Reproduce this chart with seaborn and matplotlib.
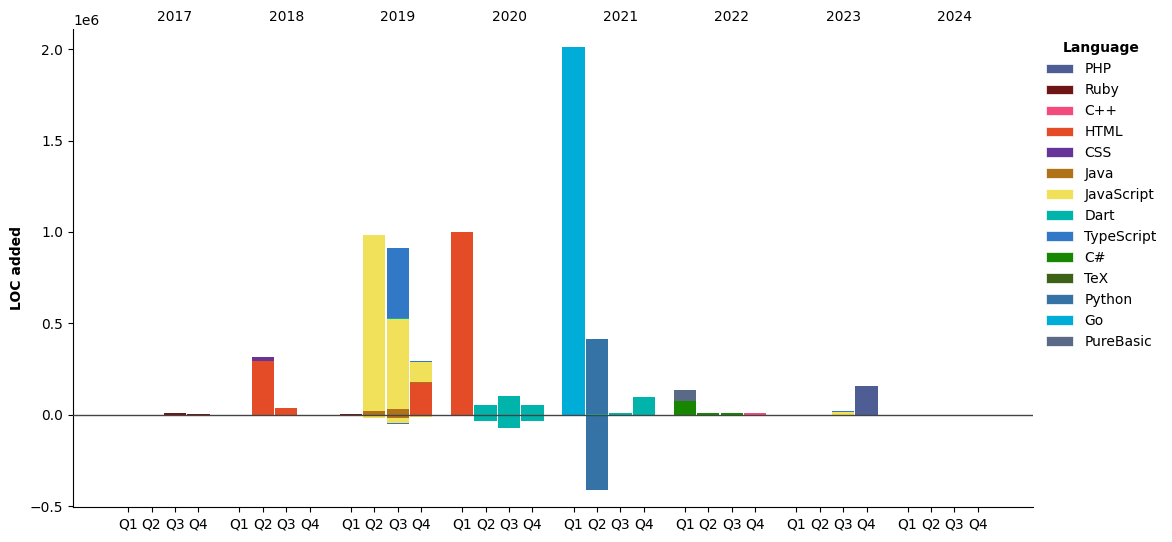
import matplotlib
matplotlib.use("Agg")
import matplotlib.pyplot as plt
from matplotlib.patches import Patch
import seaborn as sns
import pandas as pd
import numpy as np

years = [2017, 2018, 2019, 2020, 2021, 2022, 2023, 2024]
quarters = ["Q1", "Q2", "Q3", "Q4"]

languages = ["PHP", "Ruby", "C++", "HTML", "CSS", "Java", "JavaScript", "Dart",
             "TypeScript", "C#", "TeX", "Python", "Go", "PureBasic"]
lang_colors = ["#4F5D95", "#701516", "#f34b7d", "#e34c26", "#663399", "#b07219",
               "#f1e05a", "#00B4AB", "#3178c6", "#178600", "#3D6117", "#3572A5",
               "#00ADD8", "#5a6986"]

rec_year = [2017, 2017, 2018, 2018, 2018, 2018, 2019, 2019, 2019,
            2019, 2019, 2019, 2019,
            2019, 2019, 2019, 2019,
            2020, 2020, 2020, 2020,
            2021, 2021, 2021, 2021, 2021,
            2022, 2022, 2022, 2022, 2022,
            2023, 2023, 2023]
rec_quarter = ["Q3", "Q4", "Q2", "Q2", "Q2", "Q3", "Q1", "Q2", "Q2",
               "Q3", "Q3", "Q3", "Q3",
               "Q4", "Q4", "Q4", "Q4",
               "Q1", "Q2", "Q3", "Q4",
               "Q1", "Q2", "Q2", "Q3", "Q4",
               "Q1", "Q1", "Q2", "Q3", "Q4",
               "Q3", "Q3", "Q4"]
rec_lang = ["Ruby", "Ruby", "HTML", "CSS", "Java", "HTML", "Ruby", "Java", "JavaScript",
            "Java", "JavaScript", "Dart", "TypeScript",
            "HTML", "Java", "JavaScript", "TypeScript",
            "HTML", "Dart", "Dart", "Dart",
            "Go", "Dart", "Python", "Dart", "Dart",
            "C#", "PureBasic", "C#", "C#", "C++",
            "JavaScript", "TypeScript", "PHP"]
rec_added = [12000, 4000, 295000, 22000, 0, 38000, 5000, 18000, 966000,
             29000, 496000, 5000, 383000,
             175000, 3000, 113000, 5000,
             1000000, 51000, 100000, 51000,
             2010000, 5000, 410000, 11000, 98000,
             76000, 61000, 7000, 7000, 7000,
             13000, 5000, 158000]
rec_removed = [0, 0, 0, 0, 8000, 0, 0, 0, 15000,
               20000, 25000, 0, 6000,
               0, 0, 10000, 0,
               0, 35000, 75000, 35000,
               0, 0, 410000, 0, 0,
               0, 0, 0, 0, 0,
               0, 0, 0]

df = pd.DataFrame({"year": rec_year, "quarter": rec_quarter, "lang": rec_lang,
                   "added": rec_added, "removed": rec_removed})

sns.set_style("ticks")
plt.rcParams["font.family"] = ["DejaVu Sans"]
for k in ["text.color", "axes.labelcolor", "xtick.color", "ytick.color", "axes.edgecolor"]:
    plt.rcParams[k] = "black"
palette = dict(zip(languages, sns.color_palette(lang_colors)))

fig = plt.figure(figsize=(11.72, 5.42), dpi=100)
ax = fig.add_axes([0.0623, 0.0637, 0.8191, 0.8828])

year_gap = 4.75
def pos(y, q):
    return years.index(y) * year_gap + quarters.index(q)

df["x"] = [pos(y, q) for y, q in zip(df["year"], df["quarter"])]
xs_all = [pos(y, q) for y in years for q in quarters]

pos_bottom = {x: 0.0 for x in xs_all}
neg_bottom = {x: 0.0 for x in xs_all}
handles = []
for lang in languages:
    sub = df[df["lang"] == lang]
    col = palette[lang]
    handles.append(Patch(facecolor=col, edgecolor="white", linewidth=0.5, label=lang))
    for _, r in sub.iterrows():
        x = r["x"]
        if r["added"] > 0:
            ax.bar(x, r["added"], bottom=pos_bottom[x], width=0.95, color=col, linewidth=0)
            pos_bottom[x] += r["added"]
        if r["removed"] > 0:
            ax.bar(x, -r["removed"], bottom=neg_bottom[x], width=0.95, color=col, linewidth=0)
            neg_bottom[x] -= r["removed"]

ax.axhline(0, color="#444444", linewidth=1.0, zorder=5)

ax.set_xticks(xs_all)
ax.set_xticklabels(quarters * len(years))
ax.set_xlim(-2.35, 38.6)
ax.set_ylim(-0.507e6, 2.11e6)
ax.set_ylabel("LOC added", fontweight="bold", fontsize=10)

sec = ax.secondary_xaxis("top")
sec.set_xticks([i * year_gap + 2 for i in range(len(years))])
sec.set_xticklabels([str(y) for y in years])
sec.tick_params(length=0)
sec.spines["top"].set_visible(False)

sns.despine(ax=ax)

leg = ax.legend(handles=handles, title="Language",
                loc="upper left", bbox_to_anchor=(1.0, 1.0), frameon=False)
leg.get_title().set_fontweight("bold")

fig.savefig("out.png", dpi=100)
